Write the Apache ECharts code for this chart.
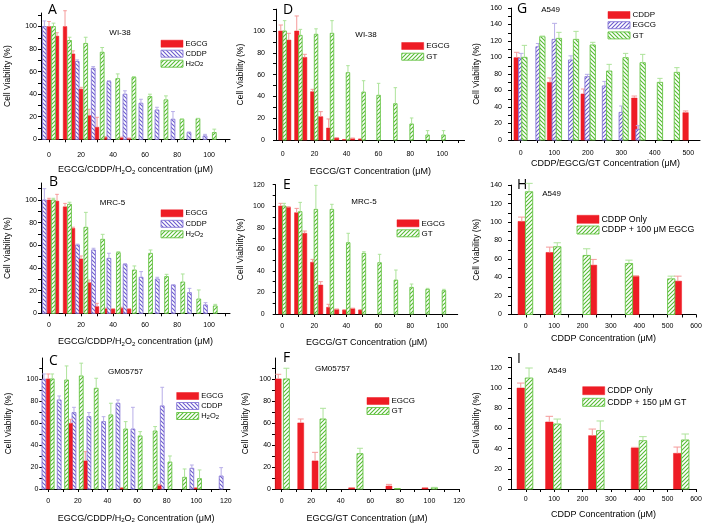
<!DOCTYPE html>
<html><head><meta charset="utf-8">
<script src="https://cdn.jsdelivr.net/npm/echarts@6/dist/echarts.min.js"></script>
<style>html,body{margin:0;padding:0;background:#fff}#c{width:705px;height:527px}</style>
</head><body><div id="c"></div><script>
// ---------- tick labels ----------
const xLab100 = [0,20,40,60,80,100];
const xLab120 = [0,20,40,60,80,100,120];
const xLab500 = [0,100,200,300,400,500];
const xLab600 = [0,100,200,300,400,500,600];
const yLab100 = [0,20,40,60,80,100];
const yLab120 = [0,20,40,60,80,100,120];
const yLab140 = [0,20,40,60,80,100,120,140];
const yLab160 = [0,20,40,60,80,100,120,140,160];

// ---------- Panel A : WI-38 ----------
const A_egcg_x = [0,5,10,15,20,25,30,35,45,50];
const A_egcg_y = [100,91.5,100,75.7,44.5,21,10.7,1.8,1.5,0.8];
const A_egcg_e = [4.5,3,14,2.7,1.6,5.6,8.8,0.4,0.4,0.3];
const A_cddp_x = [-2.9,17.6,27.6,37.4,47.4,57.4,67.4,77.4,87.4,97.4];
const A_cddp_y = [100,69,63,51.2,40,32,26,17.8,6,3];
const A_cddp_e = [5,1.4,1.5,0.8,3,3.5,2.4,6.8,0.5,1.4];
const A_h2o2_x = [2.8,12.8,22.9,33.2,42.9,53,63,73,83,93,103.2];
const A_h2o2_y = [100,87.6,85,77.2,53.8,55,37.9,35,17.8,18.3,6];
const A_h2o2_e = [3,2.9,5.5,4.2,4.2,0.6,2.1,3.5,0.3,0.3,3];

// ---------- Panel B : MRC-5 ----------
const B_egcg_x = [0,5,10,15,20,25,30,35,40,45,50];
const B_egcg_y = [100,99,94,75,48,27,5.9,4.1,3.8,4.4,3.8];
const B_egcg_e = [1.5,6,3,1,2.6,2.4,2.9,0.4,0.3,0.9,0.3];
const B_cddp_x = [-2.9,17.8,27.8,37.4,47.5,57.5,67.6,77.6,87.7,97.7];
const B_cddp_y = [100,60.3,55.9,48.5,43.2,31.8,30.3,25,18.2,7.4];
const B_cddp_e = [10,0.7,1.5,4.5,0.6,5,1.5,0.3,3.8,2];
const B_h2o2_x = [2.7,12.8,23,33.5,43.3,53.3,63.4,73.4,83.5,93.5,103.8];
const B_h2o2_y = [100,96.2,75.9,65.3,53.5,38.2,52.9,32.4,27.6,12.6,6.5];
const B_h2o2_e = [1.5,1.8,13.2,4.4,0.9,3.6,3,2,7.1,8,1.4];

// ---------- Panel C : GM05757 ----------
const C_egcg_x = [0,15,25,50,75,100];
const C_egcg_y = [100,59.7,25.5,1,3,1];
const C_egcg_e = [4.5,3.6,8.4,0.3,1.2,0.3];
const C_cddp_x = [-2.9,7.4,17.4,27.5,37.4,47.1,57.2,77,97,116.8];
const C_cddp_y = [99.7,80.9,69.4,65.8,61.2,77.9,54.5,75.5,18.8,11.8];
const C_cddp_e = [4.8,3.6,4.8,3.6,4.5,3,19.7,16.9,3,7.6];
const C_h2o2_x = [2.7,12.4,22.3,32.4,42.3,52.3,62.1,72.2,82.2,92.1,102.2];
const C_h2o2_y = [100,99,102.7,91.5,67.3,54.5,48.2,52.7,24.5,10.6,9.4];
const C_h2o2_e = [4.5,12.8,11.6,9.1,10.6,6.7,3.9,4,5.5,7.6,7.9];

// ---------- Panel D : WI-38 ----------
const D_egcg_x = [-1.2,3.8,8.8,13.8,18.8,23.8,28.8,33.8,38.8,43.8,48.8];
const D_egcg_y = [100,91.7,100,75.8,44.3,21.4,11,1.8,0.5,1.2,1];
const D_egcg_e = [5.5,6.2,13.8,2.8,2.2,4.6,8.3,0.3,0.2,0.6,0.2];
const D_gt_x = [1.2,11.1,20.9,30.9,40.9,50.7,60.1,70.6,80.8,90.8,100.8];
const D_gt_y = [100,96,97,97.9,61.8,44,41,33.3,14.7,4.6,4.6];
const D_gt_e = [9.5,5.5,5,11.6,6.4,10.4,11,14.7,5.5,4,4];

// ---------- Panel E : MRC-5 ----------
const E_egcg_x = [-1,3.8,9,14,19,24,29,34,39,44,49];
const E_egcg_y = [100.2,99,94,74.9,48,26.9,6.2,4.3,3.7,5,3.7];
const E_egcg_e = [2.5,0.5,4,2.1,2.7,3.1,2.8,0.3,0.3,0.4,0.3];
const E_gt_x = [1.2,11.2,21,31,41.2,51,60.8,71,80.8,90.8,101];
const E_gt_y = [100.2,95,97.1,97.1,66.2,56.3,47.6,31.5,24.7,22.9,21.7];
const E_gt_e = [2.5,8.6,22.3,4.7,8.7,1.5,7.8,9.3,3.1,0.9,1.2];

// ---------- Panel F : GM05757 ----------
const F_egcg_x = [-2.3,12.9,22.6,47.4,72.6,97];
const F_egcg_y = [100,60,25.5,1,2.7,1];
const F_egcg_e = [4.2,3.6,7.8,0.3,1.5,0.3];
const F_gt_x = [3.2,28,53,78.3,103.3];
const F_gt_y = [100,63.6,32.1,0.3,1.2];
const F_gt_e = [9.7,9.7,4.9,0.1,0.3];

// ---------- Panel G : A549 ----------
const G_cddp_x = [-12,87.5,188,339,492];
const G_cddp_y = [99.8,69.9,55.8,50.9,33.1];
const G_cddp_e = [6.5,5.3,6,2.4,2.1];
const G_egcg_x = [1,52.7,101,150,199,251,301,351];
const G_egcg_y = [99,113,122,97,76.8,65.5,33.5,13];
const G_egcg_e = [6,4,19.4,5,2.8,5.5,7.7,4.4];
const G_gt_x = [11,64.6,114,165,215,264,313,364,415.5,466];
const G_gt_y = [100.2,125.3,123.2,122,115.2,83.6,99.8,93.7,69.9,82];
const G_gt_e = [14.5,0.7,7.3,9.7,3.2,8.1,5.2,10.1,4.8,5.7];

// ---------- Panel H : A549 ----------
const H_only_x = [-14,84.5,237,386,536];
const H_only_y = [100.7,67.1,53.4,41.5,36.1];
const H_only_e = [4.7,5.8,6.2,0.3,5.4];
const H_egcg_x = [11.6,111,214.7,363.7,512.7];
const H_egcg_y = [132.8,73.3,63.9,55.2,38.6];
const H_egcg_e = [9.1,4.3,7.2,3.6,2.9];

// ---------- Panel I : A549 ----------
const I_only_x = [-17.6,83,234.5,384.9,533.8];
const I_only_y = [99.9,66.3,52.8,40.6,35.3];
const I_only_e = [4.9,5.6,6.5,0.6,6.2];
const I_gt_x = [11.6,111,262.7,413,562];
const I_gt_y = [109.8,64.3,57.7,47.8,48.5];
const I_gt_e = [9.9,4.9,9.6,4,5.9];

// ---------- styles ----------
const FONT = '"Liberation Sans", Arial, sans-serif';
function hatch(color, dir) {
  const s = 4, c = document.createElement('canvas'); c.width = c.height = s;
  const g = c.getContext('2d');
  g.fillStyle = '#fff'; g.fillRect(0, 0, s, s);
  g.strokeStyle = color; g.lineWidth = 1.1; g.beginPath();
  if (dir === 'f') {
    g.moveTo(0, s); g.lineTo(s, 0); g.moveTo(-1, 1); g.lineTo(1, -1); g.moveTo(s - 1, s + 1); g.lineTo(s + 1, s - 1);
  } else {
    g.moveTo(0, 0); g.lineTo(s, s); g.moveTo(-1, s - 1); g.lineTo(1, s + 1); g.moveTo(s - 1, -1); g.lineTo(s + 1, 1);
  }
  g.stroke();
  return { image: c, repeat: 'repeat' };
}
const RED = { fill: '#ee1c25', stroke: '#ee1c25', err: '#f59a9a', lw: 0.5 };
const PB = { fill: hatch('#6a5acd', 'b'), stroke: '#8676d6', err: '#b8aee8', lw: 0.9 };
const PF = { fill: hatch('#6a5acd', 'f'), stroke: '#8676d6', err: '#b8aee8', lw: 0.9 };
const GF = { fill: hatch('#55bb33', 'f'), stroke: '#66c444', err: '#ade39a', lw: 0.9 };
const GB = { fill: hatch('#55bb33', 'b'), stroke: '#66c444', err: '#ade39a', lw: 0.9 };

const H2O2 = 'H{s|2}O{s|2}';
const panels = [
  { grid:{left:41,top:13,width:189,height:126.3}, xr:[-5,113], ymax:112, xl:xLab100, yl:yLab100, xm:12, ym:4, xg:25, yg:28.7,
    xname:'EGCG/CDDP/'+H2O2+' concentration (μM)',
    ser:[[A_cddp_x,A_cddp_y,A_cddp_e,PB,3.8],[A_egcg_x,A_egcg_y,A_egcg_e,RED,3.6],[A_h2o2_x,A_h2o2_y,A_h2o2_e,GF,3.8]],
    letter:['A',48,10], cell:['WI-38',120,32.7], leg:{x:161,y:43.7,dy:10,fs:7.5,h:7,items:[['EGCG',RED],['CDDP',PB],[H2O2,GF]]} },
  { grid:{left:41,top:183,width:189,height:130.3}, xr:[-5,113], ymax:115, xl:xLab100, yl:yLab100, xm:8.5, ym:4, xg:23, yg:29.3,
    xname:'EGCG/CDDP/'+H2O2+' concentration (μM)',
    ser:[[B_cddp_x,B_cddp_y,B_cddp_e,PB,3.8],[B_egcg_x,B_egcg_y,B_egcg_e,RED,3.6],[B_h2o2_x,B_h2o2_y,B_h2o2_e,GF,3.8]],
    letter:['B',49,182.5], cell:['MRC-5',112.5,202.3], leg:{x:161,y:213.3,dy:10.5,fs:7.5,h:7,items:[['EGCG',RED],['CDDP',PB],[H2O2,GF]]} },
  { grid:{left:42.3,top:358,width:187.6,height:131}, xr:[-4,122.7], ymax:119, xl:xLab120, yl:yLab100, xm:8.7, ym:4, xg:23.8, yg:29,
    xname:'EGCG/CDDP/'+H2O2+' Concentration (μM)',
    ser:[[C_cddp_x,C_cddp_y,C_cddp_e,PB,3.8],[C_egcg_x,C_egcg_y,C_egcg_e,RED,3.8],[C_h2o2_x,C_h2o2_y,C_h2o2_e,GF,3.8]],
    letter:['C',49,361], cell:['GM05757',125.5,371.7], leg:{x:176.7,y:396,dy:10,fs:7.5,h:7,items:[['EGCG',RED],['CDDP',PB],[H2O2,GF]]} },
  { grid:{left:276,top:9.2,width:188.6,height:130.8}, xr:[-4.2,114], ymax:120, xl:xLab100, yl:yLab100, xm:11, ym:11, xg:26.2, yg:31,
    xname:'EGCG/GT Concentration (μM)',
    ser:[[D_egcg_x,D_egcg_y,D_egcg_e,RED,4.3],[D_gt_x,D_gt_y,D_gt_e,GF,3.5]],
    letter:['D',283,10], cell:['WI-38',366,35], leg:{x:401.7,y:46,dy:10.7,fs:8,h:7,items:[['EGCG',RED],['GT',GF]]} },
  { grid:{left:275.7,top:184.7,width:182,height:129.3}, xr:[-4.1,109.6], ymax:120, xl:xLab100, yl:yLab120, xm:9, ym:11, xg:23.5, yg:30.7,
    xname:'EGCG/GT Concentration (μM)',
    ser:[[E_egcg_x,E_egcg_y,E_egcg_e,RED,4.3],[E_gt_x,E_gt_y,E_gt_e,GF,3.5]],
    letter:['E',283,185.5], cell:['MRC-5',364,202], leg:{x:397,y:223.3,dy:10,fs:8,h:7,items:[['EGCG',RED],['GT',GF]]} },
  { grid:{left:275,top:358,width:184,height:131}, xr:[-4.5,120], ymax:119, xl:xLab120, yl:yLab100, xm:8.7, ym:4, xg:23.8, yg:25,
    xname:'EGCG/GT Concentration (μM)',
    ser:[[F_egcg_x,F_egcg_y,F_egcg_e,RED,6],[F_gt_x,F_gt_y,F_gt_e,GF,6]],
    letter:['F',283,358.5], cell:['GM05757',332.5,368.3], leg:{x:367,y:401,dy:10,fs:8,h:7,items:[['EGCG',RED],['GT',GF]]} },
  { grid:{left:511,top:8,width:189,height:132}, xr:[-29,535], ymax:160, xl:xLab500, yl:yLab160, xm:10, ym:9, xg:18.5, yg:30,
    xname:'CDDP/EGCG/GT Concentration (μM)',
    ser:[[G_cddp_x,G_cddp_y,G_cddp_e,RED,5.5],[G_egcg_x,G_egcg_y,G_egcg_e,PF,5],[G_gt_x,G_gt_y,G_gt_e,GB,5.3]],
    letter:['G',517,9.5], cell:['A549',550.5,9.3], leg:{x:608,y:15,dy:10.2,fs:8,h:7,items:[['CDDP',RED],['EGCG',PF],['GT',GB]]} },
  { grid:{left:511,top:185.1,width:185,height:129.4}, xr:[-52,600], ymax:140, xl:xLab600, yl:yLab140, xm:7.7, ym:9, xg:18.3, yg:30,
    xname:'CDDP Concentration (μM)',
    ser:[[H_only_x,H_only_y,H_only_e,RED,7.5],[H_egcg_x,H_egcg_y,H_egcg_e,GF,7.3]],
    letter:['H',517,185.5], cell:['A549',551.5,194], leg:{x:577,y:219.3,dy:10.7,fs:8.8,h:8,items:[['CDDP Only',RED],['CDDP + 100 μM EGCG',GF]]} },
  { grid:{left:511,top:357.6,width:185,height:131.4}, xr:[-52,600], ymax:130, xl:xLab600, yl:yLab120, xm:7, ym:9, xg:20.5, yg:30,
    xname:'CDDP Concentration (μM)',
    ser:[[I_only_x,I_only_y,I_only_e,RED,7.5],[I_gt_x,I_gt_y,I_gt_e,GF,7.5]],
    letter:['I',517,359], cell:['A549',557,371], leg:{x:582.7,y:390.7,dy:11.6,fs:8.8,h:8,items:[['CDDP Only',RED],['CDDP + 150 μM GT',GF]]} }
];

function halfTicks(labels, max) {
  const h = (labels[1] - labels[0]) / 2, out = [];
  for (let v = 0; v <= max + 1e-9; v += h) out.push(v);
  return out;
}
const RICH = { s: { fontSize: 6, lineHeight: 6, verticalAlign: 'bottom', fontFamily: FONT, color: '#000' } };

function barSeries(gi, xs, ys, es, st, w) {
  return {
    type: 'custom', xAxisIndex: gi, yAxisIndex: gi, clip: false,
    data: xs.map((x, i) => [x, ys[i], es[i]]),
    renderItem: function (params, api) {
      const x = api.value(0), y = api.value(1), e = api.value(2);
      const b = api.coord([x, 0]), t = api.coord([x, y]), et = api.coord([x, y + e]);
      const ch = [{ type: 'rect', shape: { x: b[0] - w / 2, y: t[1], width: w, height: b[1] - t[1] },
        style: { fill: st.fill, stroke: st.stroke, lineWidth: st.lw } }];
      if (e > 0.25) {
        ch.push({ type: 'line', shape: { x1: b[0], y1: t[1], x2: b[0], y2: et[1] }, style: { stroke: st.err, lineWidth: 1 } });
        ch.push({ type: 'line', shape: { x1: b[0] - w / 2, y1: et[1], x2: b[0] + w / 2, y2: et[1] }, style: { stroke: st.err, lineWidth: 1 } });
      }
      return { type: 'group', children: ch };
    }
  };
}

const grids = [], xAxes = [], yAxes = [], series = [], graphic = [];
panels.forEach((p, i) => {
  grids.push(Object.assign({ containLabel: false }, p.grid));
  xAxes.push({ type: 'value', gridIndex: i, min: p.xr[0], max: p.xr[1],
    axisLine: { onZero: false, lineStyle: { color: '#000', width: 1 } },
    axisTick: { show: true, length: 3, customValues: halfTicks(p.xl, p.xr[1]), lineStyle: { color: '#000' } },
    axisLabel: { customValues: p.xl, fontSize: 7, color: '#000', margin: p.xm, fontFamily: FONT },
    splitLine: { show: false },
    name: p.xname, nameLocation: 'middle', nameGap: p.xg,
    nameTextStyle: { fontSize: 9, lineHeight: 11, color: '#000', fontFamily: FONT, rich: RICH } });
  yAxes.push({ type: 'value', gridIndex: i, min: 0, max: p.ymax,
    axisLine: { show: true, onZero: false, lineStyle: { color: '#000', width: 1 } },
    axisTick: { show: true, length: 3, customValues: halfTicks(p.yl, p.ymax), lineStyle: { color: '#000' } },
    axisLabel: { customValues: p.yl, fontSize: 7, color: '#000', margin: p.ym, fontFamily: FONT },
    splitLine: { show: false },
    name: 'Cell Viability (%)', nameLocation: 'middle', nameGap: p.yg,
    nameTextStyle: { fontSize: 8.5, color: '#000', fontFamily: FONT } });
  p.ser.forEach(s => series.push(barSeries(i, s[0], s[1], s[2], s[3], s[4])));
  graphic.push({ type: 'text', x: p.letter[1], y: p.letter[2],
    style: { text: p.letter[0], fontSize: 14, fontFamily: '"Open Sans", sans-serif', fill: '#000', align: 'left', verticalAlign: 'middle' } });
  graphic.push({ type: 'text', x: p.cell[1], y: p.cell[2],
    style: { text: p.cell[0], fontSize: 8, fontFamily: FONT, fill: '#000', align: 'center', verticalAlign: 'middle' } });
  const L = p.leg;
  L.items.forEach((it, k) => {
    const cy = L.y + k * L.dy;
    graphic.push({ type: 'rect', shape: { x: L.x, y: cy - L.h / 2, width: 22, height: L.h },
      style: { fill: it[1].fill, stroke: it[1].stroke, lineWidth: it[1].lw } });
    graphic.push({ type: 'text', x: L.x + 24.5, y: cy,
      style: { text: it[0], fontSize: L.fs, fontFamily: FONT, fill: '#000', align: 'left', verticalAlign: 'middle', rich: RICH } });
  });
});

const chart = echarts.init(document.getElementById('c'), null, { renderer: 'canvas' });
chart.setOption({ animation: false, backgroundColor: '#fff', grid: grids, xAxis: xAxes, yAxis: yAxes, series: series, graphic: graphic });
</script></body></html>
